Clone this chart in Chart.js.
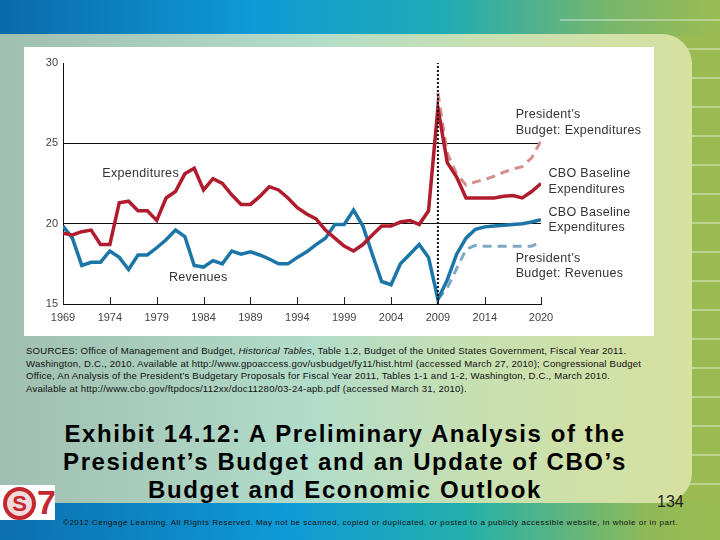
<!DOCTYPE html>
<html>
<head>
<meta charset="utf-8">
<title>Exhibit 14.12</title>
<script src="https://cdn.jsdelivr.net/npm/chart.js@4.4.1/dist/chart.umd.min.js"></script>
<style>
  html, body { margin: 0; padding: 0; }
  body {
    width: 720px; height: 540px; position: relative; overflow: hidden;
    background: #9bbb52;
    font-family: "Liberation Sans", Arial, sans-serif;
  }
  .top-band {
    position: absolute; left: 0; top: 0; width: 720px; height: 36px;
    background: linear-gradient(90deg, #0b6aa9 0%, #0d9ad6 35%, #20acb4 62%, #79b66a 85%, #9bbb52 100%);
  }
  .bottom-band {
    position: absolute; left: 0; top: 502px; width: 720px; height: 38px;
    background: linear-gradient(90deg, #0c6fae 0%, #0e9bd7 40%, #25b0ab 65%, #8fba58 90%, #9bbb52 100%);
  }
  .stripes {
    position: absolute; left: 560px; top: 0; width: 160px; height: 502px;
    background: repeating-linear-gradient(180deg, rgba(255,255,255,0) 0px, rgba(255,255,255,0) 19px,
      rgba(255,255,255,0.35) 19px, rgba(255,255,255,0.35) 21px, rgba(255,255,255,0) 21px, rgba(255,255,255,0) 29px);
  }
  .panel {
    position: absolute; left: 0; top: 34px; width: 692px; height: 469px;
    border-radius: 0 30px 30px 0;
    background: linear-gradient(90deg, #a0bfb0 0%, #b2dcca 45%, #c8e0b0 70%, #d7e1a0 100%);
  }
  .chart-box {
    position: absolute; left: 24px; top: 47px; width: 630px; height: 289px; background: #fff;
  }
  .sources {
    position: absolute; left: 26px; top: 345px; white-space: nowrap;
    font-size: 9.6px; line-height: 12.7px; letter-spacing: 0.2px; color: #111;
  }
  .title {
    position: absolute; left: 0; top: 420px; width: 690px; text-align: center;
    font-weight: bold; font-size: 24px; line-height: 28px; letter-spacing: 1.6px; color: #000;
  }
  .page-num { position: absolute; left: 657px; top: 493px; font-size: 16px; color: #222; }
  .copyright {
    position: absolute; left: 63px; top: 518px; white-space: nowrap;
    font-size: 8px; letter-spacing: 0.5px; color: #111;
  }
  .logo {
    position: absolute; left: 0; top: 485px; width: 55px; height: 35px; background: #fff;
  }
  .logo .ring {
    position: absolute; left: 3px; top: 2px; width: 25px; height: 25px; border-radius: 50%;
    border: 4px solid #c4282f; background: #f3dada; color: #c4282f;
    font-weight: bold; font-size: 22px; line-height: 25px; text-align: center;
  }
  .logo .seven {
    position: absolute; left: 37px; top: -2px; color: #c4282f; font-weight: bold; font-size: 34px;
  }
</style>
</head>
<body>
<div class="top-band"></div>
<div class="bottom-band"></div>
<div class="stripes"></div>
<div class="panel"></div>
<div class="chart-box"><canvas id="budget-chart" width="630" height="289"></canvas></div>

<div class="sources">SOURCES: Office of Management and Budget, <i>Historical Tables</i>, Table 1.2, Budget of the United States Government, Fiscal Year 2011.<br>Washington, D.C., 2010. Available at http://www.gpoaccess.gov/usbudget/fy11/hist.html (accessed March 27, 2010); Congressional Budget<br>Office, An Analysis of the President’s Budgetary Proposals for Fiscal Year 2011, Tables 1-1 and 1-2, Washington, D.C., March 2010.<br>Available at http://www.cbo.gov/ftpdocs/112xx/doc11280/03-24-apb.pdf (accessed March 31, 2010).</div>

<div class="title">Exhibit 14.12: A Preliminary Analysis of the<br>President’s Budget and an Update of CBO’s<br>Budget and Economic Outlook</div>
<div class="page-num">134</div>
<div class="logo"><div class="ring">S</div><div class="seven">7</div></div>
<div class="copyright">©2012 Cengage Learning. All Rights Reserved. May not be scanned, copied or duplicated, or posted to a publicly accessible website, in whole or in part.</div>

<script>
// history + CBO baseline, percent of GDP
const years = [1969, 1970, 1971, 1972, 1973, 1974, 1975, 1976, 1977, 1978,
  1979, 1980, 1981, 1982, 1983, 1984, 1985, 1986, 1987, 1988,
  1989, 1990, 1991, 1992, 1993, 1994, 1995, 1996, 1997, 1998,
  1999, 2000, 2001, 2002, 2003, 2004, 2005, 2006, 2007, 2008,
  2009, 2010, 2011, 2012, 2013, 2014, 2015, 2016, 2017, 2018,
  2019, 2020];
const expenditures = [19.4, 19.3, 19.5, 19.6, 18.7, 18.7, 21.3, 21.4, 20.8, 20.8,
  20.2, 21.6, 22.0, 23.1, 23.45, 22.1, 22.8, 22.5, 21.8, 21.2,
  21.2, 21.7, 22.3, 22.1, 21.6, 21.0, 20.6, 20.3, 19.6, 19.1,
  18.6, 18.3, 18.7, 19.3, 19.85, 19.85, 20.1, 20.2, 19.95, 20.8,
  27.2, 23.8, 22.9, 21.6, 21.6, 21.6, 21.6, 21.7, 21.75, 21.6,
  22.0, 22.5];
const revenues = [19.85, 19.1, 17.4, 17.6, 17.6, 18.3, 17.9, 17.15, 18.05, 18.05,
  18.5, 19.0, 19.6, 19.2, 17.4, 17.3, 17.7, 17.5, 18.3, 18.1,
  18.25, 18.05, 17.8, 17.5, 17.5, 17.9, 18.25, 18.7, 19.1, 19.95,
  19.95, 20.85, 19.85, 18.1, 16.4, 16.2, 17.5, 18.1, 18.7, 17.9,
  15.3, 16.5, 18.1, 19.1, 19.65, 19.8, 19.85, 19.9, 19.95, 20.0,
  20.1, 20.25];

// President's budget
const planYears = [2009, 2010, 2011, 2012, 2013, 2014, 2015, 2016, 2017, 2018, 2019, 2020];
const presidentExpenditures = [28.15, 24.4, 23.1, 22.4, 22.6, 22.75, 22.95, 23.2, 23.4, 23.55, 24.1, 25.15];
const presidentRevenues = [15.3, 16.0, 17.2, 18.4, 18.65, 18.6, 18.6, 18.6, 18.6, 18.6, 18.6, 18.85];

const yearTicks = [1969, 1974, 1979, 1984, 1989, 1994, 1999, 2004, 2009, 2014, 2020];
const valueTicks = [15, 20, 25, 30];
const markerYear = 2009;

const notes = [
  { text: "Expenditures", x: 1973.2, y: 23.1 },
  { text: "Revenues", x: 1980.3, y: 16.65 },
  { text: "President’s", x: 2017.3, y: 26.8 },
  { text: "Budget: Expenditures", x: 2017.3, y: 25.8 },
  { text: "CBO Baseline", x: 2020.8, y: 23.1 },
  { text: "Expenditures", x: 2020.8, y: 22.1 },
  { text: "CBO Baseline", x: 2020.8, y: 20.7 },
  { text: "Expenditures", x: 2020.8, y: 19.75 },
  { text: "President’s", x: 2017.3, y: 17.8 },
  { text: "Budget: Revenues", x: 2017.3, y: 16.9 },
];

const toPoints = (xs, ys) => xs.map((x, i) => ({ x: x, y: ys[i] }));

const notesPlugin = {
  id: "notes",
  afterDatasetsDraw(chart) {
    const { ctx, scales: { x, y } } = chart;
    ctx.save();
    ctx.font = "12.5px 'Liberation Sans', Arial, sans-serif";
    ctx.letterSpacing = "0.3px";
    ctx.fillStyle = "#333";
    ctx.textBaseline = "middle";
    notes.forEach(n => ctx.fillText(n.text, x.getPixelForValue(n.x), y.getPixelForValue(n.y)));
    // small ticks pointing up from the axis
    ctx.strokeStyle = "#222";
    ctx.lineWidth = 1;
    yearTicks.forEach(v => {
      const px = Math.round(x.getPixelForValue(v)) + 0.5;
      ctx.beginPath();
      ctx.moveTo(px, y.bottom);
      ctx.lineTo(px, y.bottom - 7);
      ctx.stroke();
    });
    ctx.restore();
  },
};

const ctx = document.getElementById("budget-chart").getContext("2d");
const budgetChart = new Chart(ctx, {
  type: "line",
  data: {
    datasets: [
      {
        label: "2009",
        data: [{ x: markerYear, y: 15 }, { x: markerYear, y: 30 }],
        borderColor: "#111",
        borderWidth: 2,
        borderDash: [2, 2],
      },
      {
        label: "Expenditures",
        data: toPoints(years, expenditures),
        borderColor: "#b01c2d",
        borderWidth: 3.5,
      },
      {
        label: "Revenues",
        data: toPoints(years, revenues),
        borderColor: "#1b76a7",
        borderWidth: 3.5,
      },
      {
        label: "President's Budget: Expenditures",
        data: toPoints(planYears, presidentExpenditures),
        borderColor: "#d4918c",
        borderWidth: 3,
        borderDash: [9, 6],
      },
      {
        label: "President's Budget: Revenues",
        data: toPoints(planYears, presidentRevenues),
        borderColor: "#7ea8c6",
        borderWidth: 3,
        borderDash: [9, 6],
      },
    ],
  },
  options: {
    responsive: false,
    animation: false,
    elements: { point: { radius: 0 }, line: { tension: 0 } },
    layout: { padding: { top: 16, right: 113, bottom: 0, left: 0 } },
    scales: {
      x: {
        type: "linear",
        min: 1969,
        max: 2020,
        afterBuildTicks: s => { s.ticks = yearTicks.map(v => ({ value: v })); },
        afterFit: s => { s.height = 32; },
        grid: { drawOnChartArea: false, drawTicks: false },
        border: { color: "#111", width: 1 },
        ticks: {
          callback: v => String(v),
          color: "#444",
          font: { size: 11 },
          padding: 7,
          maxRotation: 0,
          autoSkip: false,
        },
      },
      y: {
        min: 15,
        max: 30,
        afterBuildTicks: s => { s.ticks = valueTicks.map(v => ({ value: v })); },
        afterFit: s => { s.width = 39; },
        grid: {
          drawTicks: false,
          color: c => (c.tick && (c.tick.value === 20 || c.tick.value === 25)) ? "#111" : "rgba(0,0,0,0)",
        },
        border: { color: "#111", width: 1 },
        ticks: { color: "#444", font: { size: 11 }, padding: 5 },
      },
    },
    plugins: {
      legend: { display: false },
      tooltip: { enabled: false },
    },
  },
  plugins: [notesPlugin],
});
</script>
</body>
</html>
